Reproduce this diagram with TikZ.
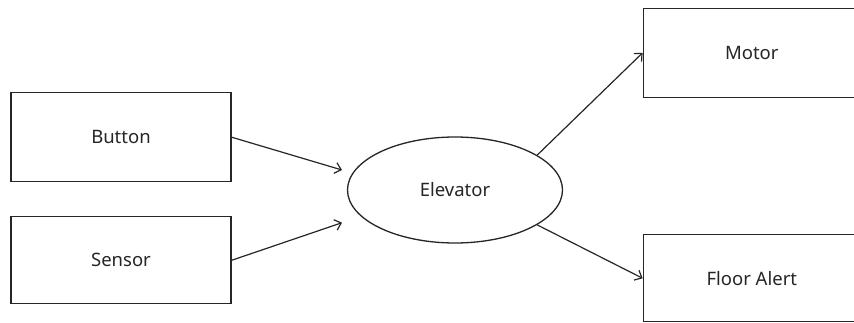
\documentclass[tikz,border=0pt]{standalone}
\usepackage{fontspec}
\setmainfont{Noto Sans}
\usetikzlibrary{arrows.meta,shapes.geometric}
\definecolor{ink}{HTML}{262626}
\definecolor{edge}{HTML}{262626}
\tikzset{
  block/.style={draw=edge, line width=1.3pt, rectangle, minimum width=220pt,
    minimum height=88pt, text=ink, font=\fontsize{18.5}{20}\selectfont, inner sep=0pt},
  hub/.style={draw=edge, line width=1.3pt, ellipse, minimum width=215pt,
    minimum height=106pt, text=ink, font=\fontsize{18.5}{20}\selectfont, inner sep=0pt},
  flow/.style={draw=edge, line width=1.2pt,
    -{Straight Barb[length=6pt,width=11pt,line width=1.2pt]}}
}
\begin{document}
\begin{tikzpicture}[x=1pt,y=-1pt]
  \useasboundingbox (0,0) rectangle (854,323);
  \clip (0,0) rectangle (854,323);
  \fill[white] (0,0) rectangle (854,323);

  % inputs
  \node[block, minimum height=89pt] (btn) at (121,137.2) {Button};
  \node[block, minimum height=87pt] (sen) at (121,260.3) {Sensor};

  % controller
  \node[hub] (elev) at (455,190) {Elevator};

  % outputs (right edges run past the page)
  \node[block, minimum width=217pt, minimum height=89pt] (mot) at (751.8,52.8) {Motor};
  \node[block, minimum width=217pt, minimum height=87pt] (fa) at (751.8,278.3) {Floor Alert};

  % free ends of the incoming arrows
  \coordinate (inA) at (342,170);
  \coordinate (inB) at (342,222.7);

  \draw[flow] (btn.east) -- (inA);
  \draw[flow] (sen.east) -- (inB);
  \draw[flow] (elev.23.7) -- (mot.west);
  \draw[flow] (elev.-23.8) -- (fa.west);
\end{tikzpicture}
\end{document}
